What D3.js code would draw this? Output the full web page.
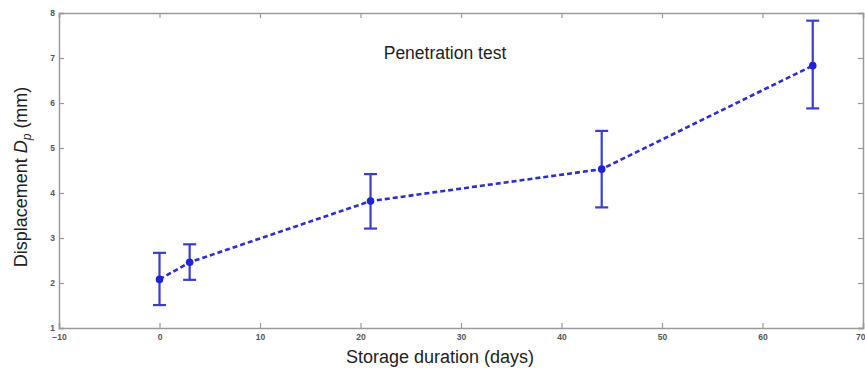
<!DOCTYPE html>
<html>
<head>
<meta charset="utf-8">
<script src="https://cdn.jsdelivr.net/npm/d3@7"></script>
<style>
  html, body { margin: 0; padding: 0; background: #fff; }
  svg { display: block; }
</style>
</head>
<body>
<svg id="chart" width="865" height="370"></svg>
<script>
// Storage duration (days) and penetration displacement statistics
const days      = [0, 3, 21, 44, 65];
const meanDisp  = [2.08, 2.46, 3.82, 4.53, 6.83];
const upperDisp = [2.67, 2.86, 4.42, 5.38, 7.83];
const lowerDisp = [1.51, 2.07, 3.21, 3.68, 5.88];

const xTicks = [-10, 0, 10, 20, 30, 40, 50, 60, 70];
const yTicks = [1, 2, 3, 4, 5, 6, 7, 8];

const titleText = "Penetration test";
const xLabel = "Storage duration (days)";

const svg = d3.select("#chart");
const margin = { left: 59, right: 2, top: 13, bottom: 42 };
const W = 865, H = 370;

const x = d3.scaleLinear().domain([-10, 70]).range([margin.left, W - margin.right]);
const y = d3.scaleLinear().domain([1, 8]).range([H - margin.bottom, margin.top]);

const axisColor = "#9a9a9a";
const tickFont = "bold 8.5px 'Liberation Sans', Arial, sans-serif";

function styleAxis(g, showLabels) {
  g.select(".domain").attr("stroke", axisColor).attr("stroke-width", 1.5);
  g.selectAll(".tick line").attr("stroke", axisColor).attr("stroke-width", 1.2);
  g.selectAll(".tick text")
    .style("font", tickFont)
    .attr("fill", "#555")
    .attr("opacity", showLabels ? 1 : 0);
}

// bottom axis with labels, inward ticks; last label kept inside the frame
svg.append("g")
  .attr("transform", `translate(0,${y(1)})`)
  .call(d3.axisBottom(x).tickValues(xTicks).tickSize(-5).tickPadding(6).tickFormat(d3.format("d")))
  .call(g => styleAxis(g, true))
  .call(g => g.selectAll(".tick text").filter(d => d === 70).attr("text-anchor", "end").attr("dx", 2));

// left axis with labels
svg.append("g")
  .attr("transform", `translate(${x(-10)},0)`)
  .call(d3.axisLeft(y).tickValues(yTicks).tickSize(-5).tickPadding(4).tickFormat(d3.format("d")))
  .call(g => styleAxis(g, true));

// top and right mirror axes
svg.append("g")
  .attr("transform", `translate(0,${y(8)})`)
  .call(d3.axisTop(x).tickValues(xTicks).tickSize(-5).tickFormat(""))
  .call(g => styleAxis(g, false));
svg.append("g")
  .attr("transform", `translate(${x(70)},0)`)
  .call(d3.axisRight(y).tickValues(yTicks).tickSize(-5).tickFormat(""))
  .call(g => styleAxis(g, false));

const points = days.map((d, i) => ({ d, m: meanDisp[i], hi: upperDisp[i], lo: lowerDisp[i] }));
const blue = "#2b2ed0";

// error bars
const eb = svg.append("g").attr("stroke", "#3a3dcc").attr("stroke-width", 2.2).attr("fill", "none");
points.forEach(p => {
  eb.append("line").attr("x1", x(p.d)).attr("x2", x(p.d)).attr("y1", y(p.lo)).attr("y2", y(p.hi));
  eb.append("line").attr("x1", x(p.d) - 6.5).attr("x2", x(p.d) + 6.5).attr("y1", y(p.hi)).attr("y2", y(p.hi));
  eb.append("line").attr("x1", x(p.d) - 6.5).attr("x2", x(p.d) + 6.5).attr("y1", y(p.lo)).attr("y2", y(p.lo));
});

// dashed mean line
svg.append("path")
  .datum(points)
  .attr("fill", "none")
  .attr("stroke", blue)
  .attr("stroke-width", 2.6)
  .attr("stroke-dasharray", "5,3")
  .attr("d", d3.line().x(p => x(p.d)).y(p => y(p.m)));

// markers
svg.append("g").selectAll("circle").data(points).join("circle")
  .attr("cx", p => x(p.d)).attr("cy", p => y(p.m)).attr("r", 3.8)
  .attr("fill", "#1f22d6");

// title inside plot
svg.append("text")
  .attr("x", 445).attr("y", 59)
  .attr("text-anchor", "middle")
  .style("font", "17.5px 'Liberation Sans', Arial, sans-serif")
  .attr("fill", "#222")
  .text(titleText);

// x label
svg.append("text")
  .attr("x", 440).attr("y", 363)
  .attr("text-anchor", "middle")
  .style("font", "18px 'Liberation Sans', Arial, sans-serif")
  .attr("fill", "#222")
  .text(xLabel);

// y label with italic D and subscript p
const yl = svg.append("text")
  .attr("transform", "translate(27,177) rotate(-90)")
  .attr("text-anchor", "middle")
  .style("font", "18px 'Liberation Sans', Arial, sans-serif")
  .attr("fill", "#222");
yl.append("tspan").text("Displacement ");
yl.append("tspan").style("font-style", "italic").text("D");
yl.append("tspan").style("font-style", "italic").style("font-size", "12px").attr("dy", 4).text("p");
yl.append("tspan").attr("dy", -4).text(" (mm)");
</script>
</body>
</html>
